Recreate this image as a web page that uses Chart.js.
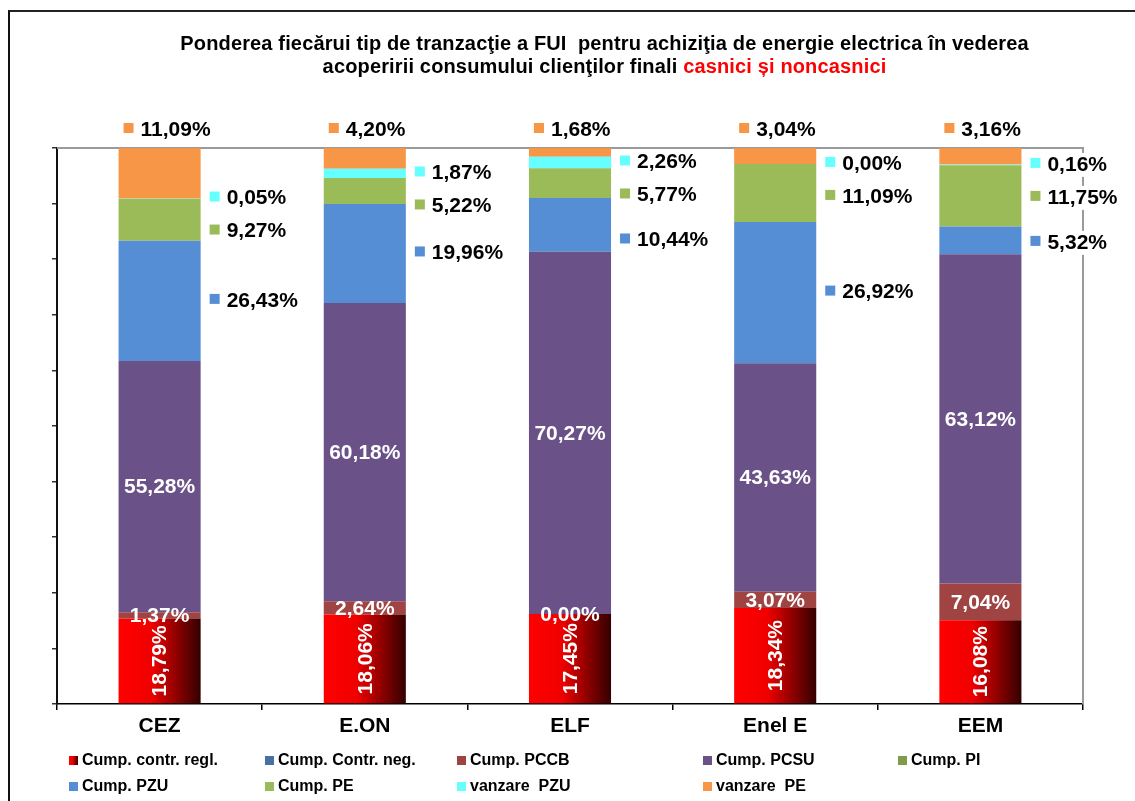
<!DOCTYPE html>
<html>
<head>
<meta charset="utf-8">
<script src="https://cdn.jsdelivr.net/npm/chart.js@4.4.1/dist/chart.umd.min.js"></script>
<style>
  html, body { margin: 0; padding: 0; background: #fff; overflow: hidden; }
  #wrap { position: relative; width: 1135px; height: 801px; }
  #frame { position: absolute; left: 8px; top: 10px; width: 3000px; height: 3000px;
           border-left: 2px solid #111; border-top: 2px solid #222; pointer-events: none; }
  #title { position: absolute; left: 37px; top: 32px; width: 1135px; text-align: center;
           font: bold 20px "Liberation Sans", Arial, sans-serif; line-height: 23px; color: #000;
           letter-spacing: 0.15px; }
  #title .red { color: #ff0000; }
  canvas { position: absolute; left: 0; top: 0; }
</style>
</head>
<body>
<div id="wrap">
  <div id="frame"></div>
  <canvas id="chart" width="1135" height="801"></canvas>
  <div id="title">Ponderea fiecărui tip de tranzacţie a FUI&nbsp; pentru achiziţia de energie electrica în vederea<br>acoperirii consumului clienţilor finali <span class="red">casnici și noncasnici</span></div>
</div>
<script>
var categories = ['CEZ', 'E.ON', 'ELF', 'Enel E', 'EEM']

var seriesNames = ['Cump. contr. regl.', 'Cump. Contr. neg.', 'Cump. PCCB', 'Cump. PCSU', 'Cump. PI',
  'Cump. PZU', 'Cump. PE', 'vanzare  PZU', 'vanzare  PE']

// values as printed on the labels (%), bottom to top
var contrRegl = [18.79, 18.06, 17.45, 18.34, 16.08]
var contrNeg = [0, 0, 0, 0, 0]
var pccb = [1.37, 2.64, 0.00, 3.07, 7.04]
var pcsu = [55.28, 60.18, 70.27, 43.63, 63.12]
var pi = [0, 0, 0, 0, 0]
var pzu = [26.43, 19.96, 10.44, 26.92, 5.32]
var pe = [9.27, 5.22, 5.77, 11.09, 11.75]
var vanzarePzu = [0.05, 1.87, 2.26, 0.00, 0.16]
var vanzarePe = [11.09, 4.20, 1.68, 3.04, 3.16]

var seriesValues = [contrRegl, contrNeg, pccb, pcsu, pi, pzu, pe, vanzarePzu, vanzarePe]
var seriesColors = ['#ff0000', '#4a6fa5', '#a04343', '#6a5187', '#7f9b48', '#558ed5', '#9bbb59', '#66ffff', '#f79646']

var FONT = '"Liberation Sans", Arial, sans-serif'

// the original is a 100% stacked chart: each bar is scaled to its own total
var totals = categories.map((c, i) => seriesValues.reduce((s, arr) => s + arr[i], 0))

function fmt(v) {
  return v.toFixed(2).replace('.', ',') + '%'
}

// horizontal red -> dark red gradient of the first series
function redGradient(ctx, left, right) {
  var g = ctx.createLinearGradient(left, 0, right, 0)
  g.addColorStop(0, '#ff0000')
  g.addColorStop(0.4, '#f00000')
  g.addColorStop(1, '#330000')
  return g
}

function redFill(context) {
  var chart = context.chart
  var xs = chart.scales.x
  if (!xs || context.dataIndex === undefined) return '#ff0000'
  var cx = xs.getPixelForValue(context.dataIndex)
  var half = (xs.width / categories.length) * 0.4 / 2
  if (!isFinite(cx)) return '#ff0000'
  return redGradient(chart.ctx, cx - half, cx + half)
}

var datasets = seriesValues.map((arr, d) => {
  return {
    label: seriesNames[d],
    data: arr.map((v, i) => v / totals[i] * 100),
    backgroundColor: d === 0 ? redFill : seriesColors[d],
    borderWidth: 0,
    categoryPercentage: 0.4,
    barPercentage: 1
  }
})

function drawKeyLabel(ctx, keyX, y, text, color) {
  ctx.font = 'bold 21px ' + FONT
  var tw = ctx.measureText(text).width
  var textX = keyX + 17
  ctx.fillStyle = '#fff'
  ctx.fillRect(keyX - 3, y - 12, textX + tw + 3 - (keyX - 3), 24)
  ctx.fillStyle = color
  ctx.fillRect(keyX, y - 7, 10, 10)
  ctx.fillStyle = '#000'
  ctx.textAlign = 'left'
  ctx.textBaseline = 'middle'
  ctx.fillText(text, textX, y)
}

var plotFrame = {
  id: 'plotFrame',
  beforeDatasetsDraw(chart) {
    var a = chart.chartArea
    var ctx = chart.ctx
    ctx.save()
    ctx.strokeStyle = '#9a9a9a'
    ctx.lineWidth = 2
    ctx.beginPath()
    ctx.moveTo(a.left, a.top)
    ctx.lineTo(a.right, a.top)
    ctx.lineTo(a.right, a.bottom)
    ctx.stroke()
    ctx.restore()
  }
}

var barLabels = {
  id: 'barLabels',
  afterDatasetsDraw(chart) {
    var ctx = chart.ctx
    ctx.save()
    categories.forEach((c, i) => {
      var el = (d) => chart.getDatasetMeta(d).data[i]
      var mid = (d) => (el(d).y + el(d).base) / 2

      // red series: rotated white text
      var r = el(0)
      ctx.save()
      ctx.translate(r.x, mid(0))
      ctx.rotate(-Math.PI / 2)
      ctx.font = 'bold 21px ' + FONT
      ctx.fillStyle = '#fff'
      ctx.textAlign = 'center'
      ctx.textBaseline = 'middle'
      ctx.fillText(fmt(contrRegl[i]), 0, 1)
      ctx.restore()

      // PCCB and PCSU: white, centred in the segment
      ;[[2, pccb], [3, pcsu]].forEach((p) => {
        ctx.font = 'bold 21px ' + FONT
        ctx.fillStyle = '#fff'
        ctx.textAlign = 'center'
        ctx.textBaseline = 'middle'
        ctx.fillText(fmt(p[1][i]), el(p[0]).x, mid(p[0]) + 1)
      })

      // outside labels on the right, pushed apart so they do not collide
      var right = r.x + r.width / 2
      var yCyan = Math.max(mid(7), chart.chartArea.top + 9)
      var yPe = Math.max(mid(6), yCyan + 33)
      var yPzu = Math.max(mid(5), yPe + 45)
      drawKeyLabel(ctx, right + 9, yCyan, fmt(vanzarePzu[i]), seriesColors[7])
      drawKeyLabel(ctx, right + 9, yPe, fmt(pe[i]), seriesColors[6])
      drawKeyLabel(ctx, right + 9, yPzu, fmt(pzu[i]), seriesColors[5])

      // vanzare PE above the bar
      var left = r.x - r.width / 2
      drawKeyLabel(ctx, left + 5, chart.chartArea.top - 18, fmt(vanzarePe[i]), seriesColors[8])
    })
    ctx.restore()
  }
}

var gridLegend = {
  id: 'gridLegend',
  afterDraw(chart) {
    var ctx = chart.ctx
    var cols = [69, 265, 457, 703, 898]
    var rows = [761, 787]
    ctx.save()
    ctx.font = 'bold 16px ' + FONT
    ctx.textAlign = 'left'
    ctx.textBaseline = 'middle'
    seriesNames.forEach((name, d) => {
      var x = cols[d % 5]
      var y = rows[Math.floor(d / 5)]
      ctx.fillStyle = d === 0 ? redGradient(ctx, x, x + 9) : seriesColors[d]
      ctx.fillRect(x, y - 5, 9, 9)
      ctx.fillStyle = '#000'
      ctx.fillText(name, x + 13, y)
    })
    ctx.restore()
  }
}

new Chart(document.getElementById('chart'), {
  type: 'bar',
  data: {
    labels: categories,
    datasets: datasets
  },
  options: {
    responsive: false,
    animation: false,
    layout: {
      padding: { left: 0, top: 148, right: 52, bottom: 0 }
    },
    plugins: {
      legend: { display: false },
      title: { display: false },
      tooltip: { enabled: false }
    },
    scales: {
      x: {
        stacked: true,
        afterFit: (scale) => { scale.height = 97 },
        grid: { offset: true, drawOnChartArea: false, tickLength: 6, color: '#000', lineWidth: 1.5 },
        border: { color: '#000', width: 1.5 },
        ticks: { color: '#000', padding: 4, font: { family: FONT, size: 21, weight: 'bold' } }
      },
      y: {
        stacked: true,
        min: 0,
        max: 100,
        afterFit: (scale) => { scale.width = 57 },
        grid: { drawOnChartArea: false, tickLength: 5, color: '#333', lineWidth: 1.5 },
        border: { color: '#111', width: 2 },
        ticks: { display: false, stepSize: 10 }
      }
    }
  },
  plugins: [plotFrame, barLabels, gridLegend]
})
</script>
</body>
</html>
